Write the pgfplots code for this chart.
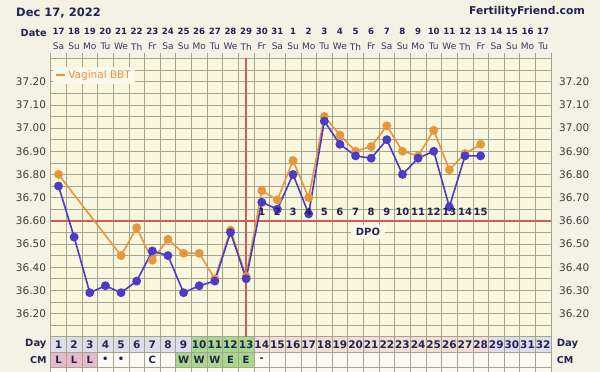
\documentclass[border=0pt]{standalone}
\usepackage{fontspec}
\setmainfont{DejaVu Sans}
\usepackage{pgfplots}
\pgfplotsset{compat=1.18}
\definecolor{pagebg}{RGB}{244,242,228}
\definecolor{plotbg}{RGB}{248,246,220}
\definecolor{legbg}{RGB}{250,249,236}
\definecolor{gridc}{RGB}{165,163,145}
\definecolor{navy}{RGB}{35,35,85}
\definecolor{ticktext}{RGB}{60,60,60}
\definecolor{bbtblue}{RGB}{75,60,195}
\definecolor{bbtorange}{RGB}{232,150,60}
\definecolor{cover}{RGB}{200,95,90}
\definecolor{daylav}{RGB}{222,222,234}
\definecolor{daygreen}{RGB}{170,215,140}
\definecolor{daypink}{RGB}{242,222,212}
\definecolor{cmpink}{RGB}{232,185,200}
\definecolor{cmlight}{RGB}{250,250,240}
\begin{document}
\begin{tikzpicture}
\fill[pagebg] (-50.7pt,0) rectangle (549.3pt,372pt);
\begin{axis}[
  at={(0,0)}, anchor=south west,
  scale only axis, width=500.3pt, height=313.5pt,
  xmin=0.5, xmax=32.5, ymin=35.948, ymax=37.30,
  clip=false,
  axis line style={draw=none},
  axis background/.style={fill=plotbg},
  xtick=\empty,
  ytick={36.2,36.3,36.4,36.5,36.6,36.7,36.8,36.9,37.0,37.1,37.2},
  major tick length=0pt,
  /pgf/number format/assume math mode=true,
  yticklabel style={/pgf/number format/fixed, /pgf/number format/fixed zerofill, /pgf/number format/precision=2,
     font=\fontsize{10.5}{12}\selectfont, text=ticktext, xshift=-1.2pt},
  legend style={at={(0.004,0.975)}, anchor=north west, fill=legbg, draw=none,
     font=\fontsize{10.5}{12}\selectfont, text=bbtorange, inner sep=2pt},
  legend cell align=left,
]
% table cell fills
\fill[daylav] (axis cs:0.5,36.034) rectangle (axis cs:9.5,36.10);
\fill[daygreen] (axis cs:9.5,36.034) rectangle (axis cs:13.5,36.10);
\fill[daypink] (axis cs:13.5,36.034) rectangle (axis cs:28.5,36.10);
\fill[daylav] (axis cs:28.5,36.034) rectangle (axis cs:32.5,36.10);
\fill[cmpink] (axis cs:0.5,35.968) rectangle (axis cs:3.5,36.034);
\fill[cmlight] (axis cs:3.5,35.968) rectangle (axis cs:8.5,36.034);
\fill[daygreen] (axis cs:8.5,35.968) rectangle (axis cs:13.5,36.034);
\fill[cmlight] (axis cs:13.5,35.968) rectangle (axis cs:32.5,36.034);
\fill[cmlight] (axis cs:0.5,35.948) rectangle (axis cs:32.5,35.968);
% grid
\pgfplotsinvokeforeach{0,...,32}{
  \draw[gridc, line width=0.6pt] (axis cs:{#1+0.5},35.948) -- (axis cs:{#1+0.5},37.322);
}
\pgfplotsinvokeforeach{0,...,24}{
  \draw[gridc, line width=0.6pt] (axis cs:0.5,{36.10+#1*0.05}) -- (axis cs:32.5,{36.10+#1*0.05});
}
\draw[gridc, line width=0.6pt] (axis cs:0.5,36.034) -- (axis cs:32.5,36.034);
\draw[gridc, line width=0.6pt] (axis cs:0.5,35.968) -- (axis cs:32.5,35.968);
% coverline and ovulation line
\draw[cover, line width=2.2pt] (axis cs:0.5,36.60) -- (axis cs:32.5,36.60);
\draw[cover, line width=2.2pt] (axis cs:13,36.10) -- (axis cs:13,37.30);
% data
\addplot[bbtorange, line width=1.6pt, mark=*, mark size=3.6pt, mark options={fill=bbtorange, draw=bbtorange},
  legend image code/.code={\draw[bbtorange, line width=2.4pt] (0pt,0pt) -- (9pt,0pt);}]
coordinates {(1,36.80) (5,36.45) (6,36.57) (7,36.43) (8,36.52) (9,36.46) (10,36.46) (11,36.35) (12,36.56) (13,36.36)
 (14,36.73) (15,36.69) (16,36.86) (17,36.70) (18,37.05) (19,36.97) (20,36.90) (21,36.92) (22,37.01) (23,36.90)
 (24,36.88) (25,36.99) (26,36.82) (27,36.89) (28,36.93)};
\addlegendentry{Vaginal BBT}
\addplot[bbtblue, line width=1.6pt, mark=*, mark size=3.6pt, mark options={fill=bbtblue, draw=bbtblue}, forget plot]
coordinates {(1,36.75) (2,36.53) (3,36.29) (4,36.32) (5,36.29) (6,36.34) (7,36.47) (8,36.45) (9,36.29) (10,36.32)
 (11,36.34) (12,36.55) (13,36.35) (14,36.68) (15,36.65) (16,36.80) (17,36.63) (18,37.03) (19,36.93) (20,36.88)
 (21,36.87) (22,36.95) (23,36.80) (24,36.87) (25,36.90) (26,36.66) (27,36.88) (28,36.88)};
\end{axis}
% header
\node[anchor=west, text=navy, font=\fontsize{11.5}{13}\selectfont\bfseries] at (-38pt,359pt) {Dec 17, 2022};
\node[anchor=east, text=navy, font=\fontsize{10.8}{13}\selectfont\bfseries] at (537.6pt,360pt) {FertilityFriend.com};
\node[anchor=east, text=navy, font=\fontsize{9.8}{12}\selectfont\bfseries, inner sep=0pt] at (-3.7pt,339pt) {Date};
\foreach \lab [count=\i] in {17,18,19,20,21,22,23,24,25,26,27,28,29,30,31,1,2,3,4,5,6,7,8,9,10,11,12,13,14,15,16,17}
  \node[text=navy, font=\fontsize{8.6}{10}\selectfont\bfseries, inner sep=0pt] at ({(\i-0.5)*15.634pt},341pt) {\lab};
\foreach \lab [count=\i] in {Sa,Su,Mo,Tu,We,Th,Fr,Sa,Su,Mo,Tu,We,Th,Fr,Sa,Su,Mo,Tu,We,Th,Fr,Sa,Su,Mo,Tu,We,Th,Fr,Sa,Su,Mo,Tu}
  \node[text=navy!80!gray, font=\fontsize{9}{10}\selectfont, inner sep=0pt] at ({(\i-0.5)*15.634pt},325.3pt) {\lab};
% right tick labels
\foreach \t in {36.20,36.30,36.40,36.50,36.60,36.70,36.80,36.90,37.00,37.10,37.20}
  \node[anchor=west, text=ticktext, font=\fontsize{10.5}{12}\selectfont, inner sep=0pt] at (508.3pt,{(\t-35.948)*231.88pt}) {\t};
% DPO numbers
\foreach \i in {1,...,15}
  \node[text=navy, font=\fontsize{10}{12}\selectfont\bfseries, inner sep=0pt] at ({(\i+13-0.5)*15.634pt},160pt) {\i};
\node[fill=legbg, text=navy, font=\fontsize{10}{12}\selectfont\bfseries, inner xsep=5pt, inner ysep=3pt] at (317.3pt,140pt) {DPO};
% table rows text
\foreach \i in {1,...,32}
  \node[text=navy, font=\fontsize{10.5}{12}\selectfont\bfseries, inner sep=0pt] at ({(\i-0.5)*15.634pt},27.6pt) {\i};
\node[anchor=east, text=navy, font=\fontsize{10}{12}\selectfont\bfseries, inner sep=0pt] at (-4pt,27.6pt) {Day};
\node[anchor=east, text=navy, font=\fontsize{9.5}{12}\selectfont\bfseries, inner sep=0pt] at (-4pt,12.3pt) {CM};
\node[anchor=west, text=navy, font=\fontsize{10}{12}\selectfont\bfseries, inner sep=0pt] at (506pt,27.6pt) {Day};
\node[anchor=west, text=navy, font=\fontsize{9.5}{12}\selectfont\bfseries, inner sep=0pt] at (506pt,12.3pt) {CM};
\foreach \i/\c in {1/L,2/L,3/L,4/•,5/•,7/C,9/W,10/W,11/W,12/E,13/E,14/-}
  \node[text=navy, font=\fontsize{10}{12}\selectfont\bfseries, inner sep=0pt] at ({(\i-0.5)*15.634pt},12.3pt) {\c};
\pgfresetboundingbox
\path[use as bounding box] (-50.7pt,0) rectangle (549.3pt,372pt);
\end{tikzpicture}
\end{document}
